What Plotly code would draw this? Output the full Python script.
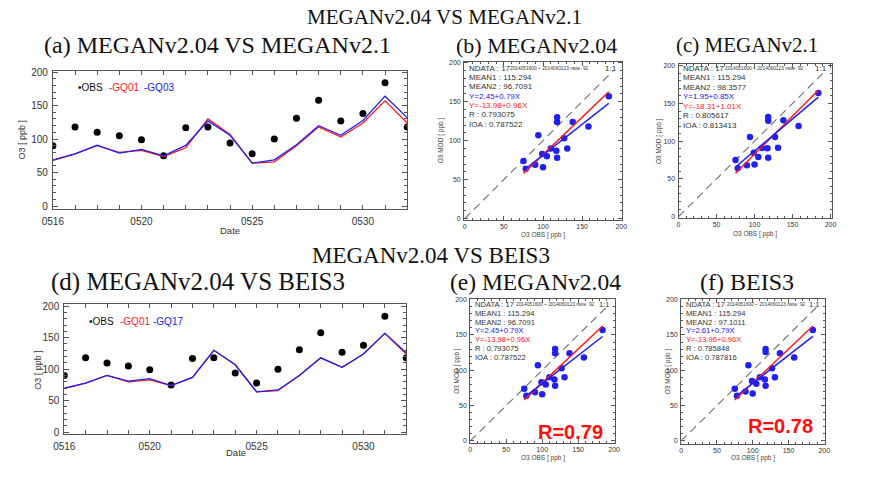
import plotly.graph_objects as go

W, H = 881, 485

# ---------------- data ----------------
days = list(range(16, 33))  # 0516 .. 0601
date_tickvals = [16, 20, 25, 30]
date_ticktext = ["0516", "0520", "0525", "0530"]

obs = [90, 118, 110, 105, 99, 75, 117, 118, 94, 78, 100, 131, 158, 127, 138, 184, 118]
gq01 = [69, 78, 90, 80, 83, 74, 87, 130, 107, 64, 66, 90, 118, 103, 124, 157, 124]
gq03 = [68, 78, 91, 79, 84.5, 75, 90.5, 127, 105.6, 64, 69, 91.4, 120, 105.6, 127.6, 164, 132]
gq17 = [70, 78, 90, 81, 85, 74, 87, 130, 107, 64, 67, 90, 118, 103, 124, 157, 126]

scatter_titles = ["(b) MEGANv2.04", "(c) MEGANv2.1", "(e) MEGANv2.04", "(f) BEIS3"]
mean1 = [115.294, 115.294, 115.294, 115.294]
mean2 = [96.7091, 98.3577, 96.7091, 97.1011]
blue_int = [2.45, 1.95, 2.45, 2.61]
blue_slope = [0.79, 0.85, 0.79, 0.79]
red_int = [-13.98, -18.31, -13.98, -13.96]
red_slope = [0.96, 1.01, 0.96, 0.96]
r_vals = ["0.793075", "0.805617", "0.793075", "0.785848"]
ioa_vals = ["0.787522", "0.813413", "0.787522", "0.787816"]
big_r = ["", "", "R=0.79", "R=0.78"]
ndata = 17
period_txt = "2014051600 ~ 2014060123 nsite: 92"

RED = "#ff1a1a"
BLUE = "#2020f0"
AX = "#555555"
TXT = "#333333"
NARROW = "Liberation Sans Narrow, Liberation Sans, Arial, sans-serif"


def px(x):
    return x / W


def py(y):
    return 1 - y / H


fig = go.Figure()
annotations = []


def text(x, y, s, size, color=TXT, family="Liberation Sans", xanchor="left",
         yanchor="middle", angle=0, bold=False):
    if bold:
        s = "<b>" + s + "</b>"
    annotations.append(dict(x=px(x), y=py(y), xref="paper", yref="paper", text=s,
                            showarrow=False, xanchor=xanchor, yanchor=yanchor,
                            textangle=angle, borderpad=0,
                            font=dict(family=family, size=size, color=color)))


def axis_style(dom, rng, fsize, minor_dtick, tickvals=None, ticktext=None, dtick=50, tick0=0):
    d = dict(domain=dom, range=rng, showline=True, linecolor=AX, linewidth=1,
             mirror="ticks", ticks="inside", ticklen=5, tickcolor=AX, tickwidth=1,
             showgrid=False, zeroline=False,
             tickfont=dict(family="Liberation Sans", size=fsize, color=TXT))
    if tickvals is not None:
        d.update(tickmode="array", tickvals=tickvals, ticktext=ticktext)
    else:
        d.update(tickmode="linear", tick0=tick0, dtick=dtick)
    if minor_dtick:
        d["minor"] = dict(ticks="inside", ticklen=3, tickcolor=AX, dtick=minor_dtick,
                          tick0=tick0, showgrid=False)
    return d


# ---------------- time-series panels ----------------
ts_panels = [
    dict(i=1, l=42.7, r=404, t=67.7, b=207.7, yr=[-4, 202], m2=gq03, lab2="GQ03",
         ly=85, lx=[67, 99, 135], ytx=11, dx=223, dy=230),
    dict(i=4, l=54.3, r=403, t=304.7, b=436.7, yr=[-3.5, 203], m2=gq17, lab2="GQ17",
         ly=322, lx=[79, 110, 144], ytx=28, dx=229, dy=455),
]

layout_axes = {}
for p in ts_panels:
    i = p["i"]
    xa = "x" if i == 1 else f"x{i}"
    ya = "y" if i == 1 else f"y{i}"
    allttx = [date_ticktext[date_tickvals.index(d)] if d in date_tickvals else "" for d in days]
    xs = axis_style([px(p["l"]), px(p["r"])], [16, 32], 10, None, tickvals=days, ticktext=allttx)
    xs["ticklen"] = 4
    xs["anchor"] = ya
    xs["ticklabelstandoff"] = 3
    ys = axis_style([py(p["b"]), py(p["t"])], p["yr"], 10, 10, dtick=50)
    ys["anchor"] = xa
    ys["ticklabelstandoff"] = 2
    layout_axes["xaxis" if i == 1 else f"xaxis{i}"] = xs
    layout_axes["yaxis" if i == 1 else f"yaxis{i}"] = ys

    fig.add_trace(go.Scatter(x=days, y=obs, mode="markers", xaxis=xa, yaxis=ya,
                             marker=dict(color="black", size=7), name="OBS"))
    fig.add_trace(go.Scatter(x=days, y=gq01, mode="lines", xaxis=xa, yaxis=ya,
                             line=dict(color=RED, width=1.3), name="GQ01"))
    fig.add_trace(go.Scatter(x=days, y=p["m2"], mode="lines", xaxis=xa, yaxis=ya,
                             line=dict(color=BLUE, width=1.3), name=p["lab2"]))

    text(p["lx"][0], p["ly"], "•OBS", 10, color="#111111")
    text(p["lx"][1], p["ly"], "-GQ01", 10, color=RED)
    text(p["lx"][2], p["ly"], "-" + p["lab2"], 10, color=BLUE)
    text(p["ytx"], (p["t"] + p["b"]) / 2, "O3 [ ppb ]", 9, xanchor="center", angle=-90)
    text(p["dx"], p["dy"], "Date", 9.5, xanchor="center")

# ---------------- scatter panels ----------------
sc_panels = [
    dict(i=2, l=462, r=622.7, t=58.5, b=219, xr=[-0.8, 200.5], yr=[-1.6, 201.3],
         ty=65, sp=9.5, ytx=438, lab_y=234.5, rx=None, ry=None, fs=8),
    dict(i=3, l=680.7, r=836.7, t=61, b=216.7, xr=[0, 201.4], yr=[-1.3, 202.2],
         ty=65, sp=9.7, ytx=661, lab_y=233, rx=None, ry=None, fs=8),
    dict(i=5, l=468.3, r=615.7, t=299, b=445, xr=[0, 201], yr=[-2.4, 201.4],
         ty=305, sp=8.9, ytx=454, lab_y=460.5, rx=570, ry=434, fs=7.6),
    dict(i=6, l=683.3, r=830, t=299, b=446, xr=[0, 201], yr=[-3.7, 201.4],
         ty=305, sp=8.9, ytx=670, lab_y=460.5, rx=785, ry=428, fs=7.6),
]
models = [gq01, gq03, gq01, gq17]

for k, p in enumerate(sc_panels):
    i = p["i"]
    xa, ya = f"x{i}", f"y{i}"
    xs = axis_style([px(p["l"]), px(p["r"])], p["xr"], 7, 10, dtick=50)
    xs["anchor"] = ya
    xs["ticklen"] = 4
    xs["minor"]["ticklen"] = 2
    xs["ticklabelstandoff"] = 0
    ys = axis_style([py(p["b"]), py(p["t"])], p["yr"], 7, 10, dtick=50)
    ys["anchor"] = xa
    ys["ticklen"] = 4
    ys["minor"]["ticklen"] = 2
    ys["ticklabelstandoff"] = 1
    layout_axes[f"xaxis{i}"] = xs
    layout_axes[f"yaxis{i}"] = ys

    xmin, xmax = min(obs), max(obs)
    fig.add_trace(go.Scatter(x=[0, 190], y=[0, 190], mode="lines", xaxis=xa, yaxis=ya,
                             line=dict(color="#707070", width=1.1, dash="8px,5px")))
    fig.add_trace(go.Scatter(x=obs, y=models[k], mode="markers", xaxis=xa, yaxis=ya,
                             marker=dict(color=BLUE, size=6.5)))
    fig.add_trace(go.Scatter(x=[xmin, xmax],
                             y=[red_int[k] + red_slope[k] * xmin, red_int[k] + red_slope[k] * xmax],
                             mode="lines", xaxis=xa, yaxis=ya,
                             line=dict(color=RED, width=1.5)))
    fig.add_trace(go.Scatter(x=[xmin, xmax],
                             y=[blue_int[k] + blue_slope[k] * xmin, blue_int[k] + blue_slope[k] * xmax],
                             mode="lines", xaxis=xa, yaxis=ya,
                             line=dict(color=BLUE, width=1.5)))

    fs = p["fs"]
    lx = p["l"] + 4
    y0 = p["ty"]
    sp = p["sp"]
    text(lx, y0, f"NDATA : {ndata}", fs, family=NARROW)
    text(p["l"] + 46, y0, period_txt, 4.8, family=NARROW)
    text(p["r"] - 4, y0, "1:1", fs, xanchor="right", family=NARROW)
    text(lx, y0 + sp, f"MEAN1 : {mean1[k]:.3f}", fs, family=NARROW)
    text(lx, y0 + 2 * sp, f"MEAN2 : {mean2[k]}", fs, family=NARROW)
    text(lx, y0 + 3 * sp, f"Y={blue_int[k]:.2f}+{blue_slope[k]:.2f}X", fs, color=BLUE, family=NARROW)
    text(lx, y0 + 4 * sp, f"Y={red_int[k]:.2f}+{red_slope[k]:.2f}X", fs, color=RED, family=NARROW)
    text(lx, y0 + 5 * sp, f"R : {r_vals[k]}", fs, family=NARROW)
    text(lx, y0 + 6 * sp, f"IOA : {ioa_vals[k]}", fs, family=NARROW)
    text((p["l"] + p["r"]) / 2, p["lab_y"], "O3 OBS [ ppb ]", 6.5, color="#444444", xanchor="center")
    text(p["ytx"], (p["t"] + p["b"]) / 2, "O3 MOD [ ppb ]", 6.5, color="#444444",
         xanchor="center", angle=-90)
    if big_r[k]:
        text(p["rx"], p["ry"], big_r[k], 20, color="#ff0d0d", xanchor="center", bold=True)

# ---------------- titles ----------------
SERIF = "Liberation Serif"
TC = "#111111"
text(442, 13, "MEGANv2.04 VS MEGANv2.1", 21, color=TC, family=SERIF, xanchor="center")
text(211, 42, "(a) MEGANv2.04 VS MEGANv2.1", 24, color=TC, family=SERIF, xanchor="center")
text(536, 42, scatter_titles[0], 22, color=TC, family=SERIF, xanchor="center")
text(750, 42, scatter_titles[1], 21, color=TC, family=SERIF, xanchor="center")
text(428, 255, "MEGANv2.04 VS BEIS3", 23, color=TC, family=SERIF, xanchor="center")
text(191, 282, "(d) MEGANv2.04 VS BEIS3", 25, color=TC, family=SERIF, xanchor="center")
text(535, 282, scatter_titles[2], 23.5, color=TC, family=SERIF, xanchor="center")
text(750, 282, scatter_titles[3], 24, color=TC, family=SERIF, xanchor="center")

fig.update_layout(width=W, height=H, autosize=False,
                  margin=dict(l=0, r=0, t=0, b=0),
                  paper_bgcolor="white", plot_bgcolor="white",
                  showlegend=False, annotations=annotations, **layout_axes)

fig.write_html("out.html", config={"displayModeBar": False},
               post_script="document.body.style.margin='0';document.body.style.overflow='hidden';")
